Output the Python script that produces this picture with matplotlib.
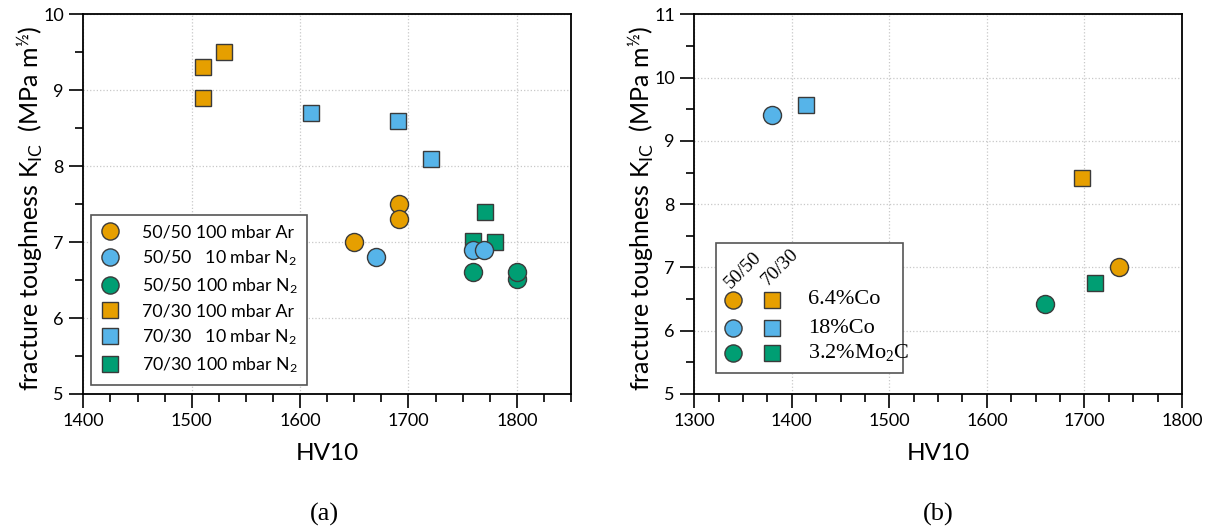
import matplotlib
matplotlib.use("Agg")
import matplotlib.pyplot as plt
from matplotlib.patches import Rectangle
from matplotlib.ticker import MultipleLocator

plt.rcParams['font.family'] = ['Lato', 'DejaVu Sans']
plt.rcParams['mathtext.fontset'] = 'custom'
plt.rcParams['mathtext.rm'] = 'Lato'
plt.rcParams['mathtext.default'] = 'regular'

# colours (orange, sky blue, green)
c_orange = '#E69F00'
c_blue = '#56B4E9'
c_green = '#009E73'
edge = '#3a3a3a'

# ---- panel (a) data: HV10 vs K_IC ----
a_series = [
    # label, marker, colour
    ('50/50 100 mbar Ar', 'o', c_orange),
    ('50/50   10 mbar N$_2$', 'o', c_blue),
    ('50/50 100 mbar N$_2$', 'o', c_green),
    ('70/30 100 mbar Ar', 's', c_orange),
    ('70/30   10 mbar N$_2$', 's', c_blue),
    ('70/30 100 mbar N$_2$', 's', c_green),
]
a_hv = [
    [1650, 1691, 1691],
    [1670, 1760, 1770],
    [1760, 1800, 1800],
    [1510, 1510, 1530],
    [1610, 1690, 1721],
    [1760, 1771, 1780],
]
a_kic = [
    [7.0, 7.5, 7.3],
    [6.8, 6.9, 6.9],
    [6.6, 6.51, 6.61],
    [9.3, 8.9, 9.5],
    [8.7, 8.6, 8.1],
    [7.01, 7.4, 7.0],
]

# ---- panel (b) data ----
b_labels = ['6.4%Co', '18%Co', '3.2%Mo$_2$C']
b_colors = [c_orange, c_blue, c_green]
b_hv_5050 = [1735, 1380, 1660]
b_kic_5050 = [7.0, 9.41, 6.42]
b_hv_7030 = [1698, 1415, 1711]
b_kic_7030 = [8.41, 9.56, 6.76]

ms_circle = 13
ms_square = 11.5

fig = plt.figure(figsize=(12.11, 5.28), dpi=100)
ax_a = fig.add_axes([0.0688, 0.2538, 0.4027, 0.7191])
ax_b = fig.add_axes([0.5733, 0.2538, 0.4027, 0.7191])

ylab = 'fracture toughness K$_{IC}$  (MPa m$^{½}$)'


def style_axes(ax, xlim, ylim):
    ax.set_xlim(*xlim)
    ax.set_ylim(*ylim)
    ax.xaxis.set_major_locator(MultipleLocator(100))
    ax.xaxis.set_minor_locator(MultipleLocator(25))
    ax.yaxis.set_major_locator(MultipleLocator(1))
    ax.yaxis.set_minor_locator(MultipleLocator(0.5))
    ax.tick_params(which='both', direction='out', top=False, right=False, width=1.2)
    ax.tick_params(which='major', length=10, labelsize=13, pad=4)
    ax.tick_params(which='minor', length=6)
    ax.grid(True, which='major', linestyle=':', color='#c8c8c8', linewidth=0.9)
    ax.set_axisbelow(True)
    for s in ax.spines.values():
        s.set_linewidth(1.3)
    ax.set_xlabel('HV10', fontsize=17.5)
    ax.xaxis.set_label_coords(0.5, -0.13)
    ax.set_ylabel(ylab, fontsize=18)
    ax.yaxis.set_label_coords(-0.079, 0.49)


# panel (a): squares first, circles on top
order = [3, 4, 5, 0, 1, 2]
handles = [None] * 6
for i in order:
    label, mk, col = a_series[i]
    ms = ms_circle if mk == 'o' else ms_square
    h, = ax_a.plot(a_hv[i], a_kic[i], linestyle='none', marker=mk, markersize=ms,
                   markerfacecolor=col, markeredgecolor=edge, markeredgewidth=1.0,
                   label=label)
    handles[i] = h
style_axes(ax_a, (1400, 1850), (5, 10))

leg = ax_a.legend(handles=handles, loc='lower left', bbox_to_anchor=(0.016, 0.024),
                  borderaxespad=0, fontsize=12.8, frameon=True, fancybox=False,
                  edgecolor='#555555', framealpha=1, handlelength=1.0,
                  handletextpad=1.3, borderpad=0.55, labelspacing=0.45,
                  markerscale=0.95)
leg.get_frame().set_linewidth(1.2)

# panel (b)
for x, y, col in zip(b_hv_7030, b_kic_7030, b_colors):
    ax_b.plot(x, y, linestyle='none', marker='s', markersize=ms_square,
              markerfacecolor=col, markeredgecolor=edge, markeredgewidth=1.0)
for x, y, col in zip(b_hv_5050, b_kic_5050, b_colors):
    ax_b.plot(x, y, linestyle='none', marker='o', markersize=ms_circle,
              markerfacecolor=col, markeredgecolor=edge, markeredgewidth=1.0)
style_axes(ax_b, (1300, 1800), (5, 11))

# custom legend for (b)
tr = ax_b.transAxes
ax_b.add_patch(Rectangle((0.0445, 0.0553), 0.3835, 0.3424, transform=tr,
                         facecolor='white', edgecolor='#555555', linewidth=1.2,
                         zorder=5))
ax_b.text(0.0998, 0.3266, '50/50', transform=tr, rotation=45, ha='center',
          va='center', rotation_mode='anchor', fontsize=14,
          family='Liberation Serif', zorder=6)
ax_b.text(0.1773, 0.3345, '70/30', transform=tr, rotation=45, ha='center',
          va='center', rotation_mode='anchor', fontsize=14,
          family='Liberation Serif', zorder=6)
row_y = [0.2476, 0.1738, 0.108]
for yy, col, lab in zip(row_y, b_colors, b_labels):
    ax_b.plot([0.0794], [yy], transform=tr, marker='o', markersize=ms_circle * 0.95,
              markerfacecolor=col, markeredgecolor=edge, markeredgewidth=1.0,
              linestyle='none', zorder=6, clip_on=False)
    ax_b.plot([0.159], [yy], transform=tr, marker='s', markersize=ms_square * 0.95,
              markerfacecolor=col, markeredgecolor=edge, markeredgewidth=1.0,
              linestyle='none', zorder=6, clip_on=False)
    ax_b.text(0.233, yy, lab, transform=tr, ha='left', va='center', fontsize=16,
              family='Liberation Serif', math_fontfamily='stix', zorder=6)

fig.text(0.268, 0.025, '(a)', ha='center', va='center', fontsize=19,
         family='Liberation Serif')
fig.text(0.7747, 0.025, '(b)', ha='center', va='center', fontsize=19,
         family='Liberation Serif')

fig.savefig('out.png', dpi=100)
